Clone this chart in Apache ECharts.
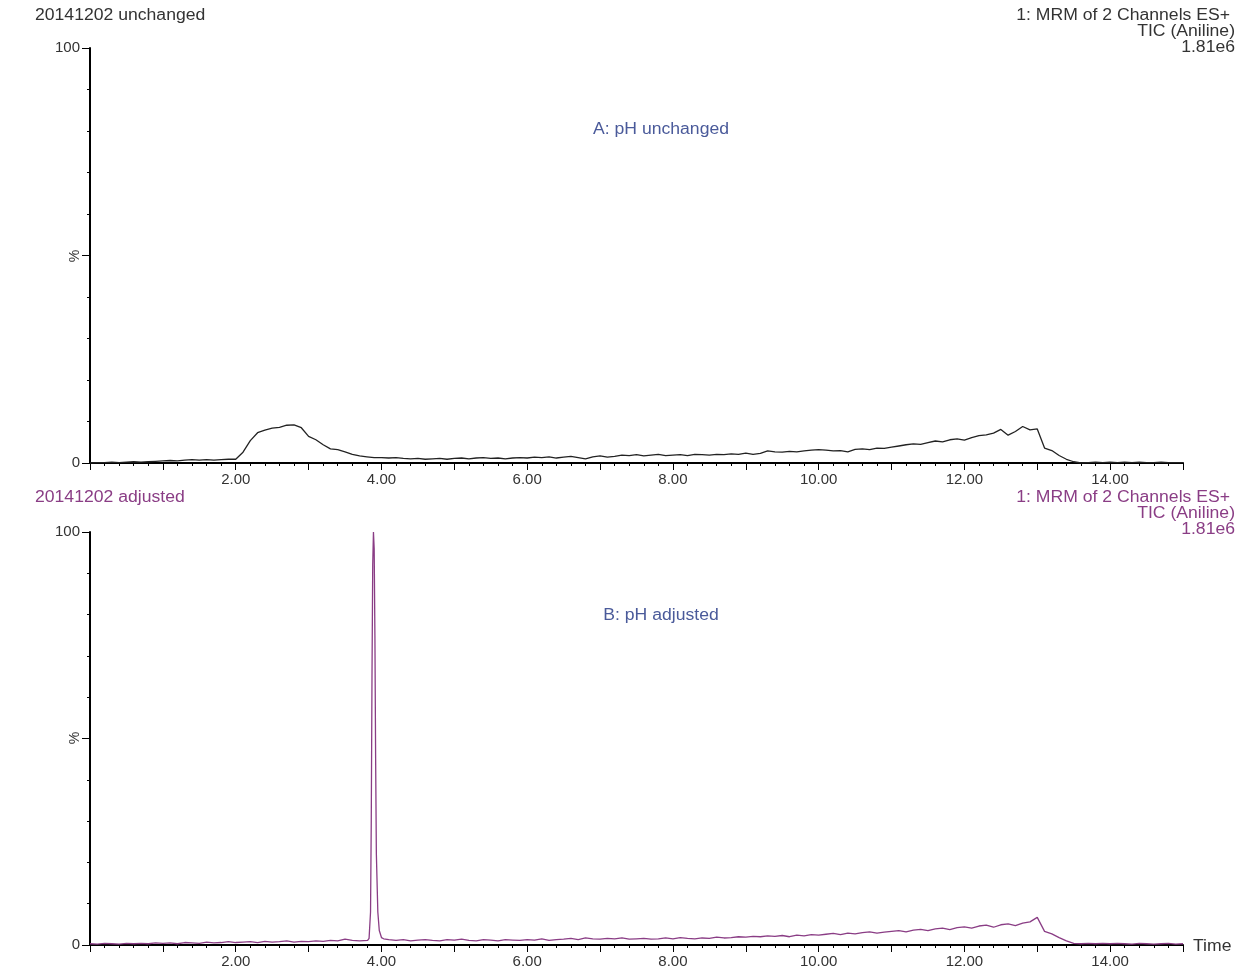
<!DOCTYPE html>
<html>
<head>
<meta charset="utf-8">
<script src="https://cdn.jsdelivr.net/npm/echarts@6/dist/echarts.min.js"></script>
<style>
html,body{margin:0;padding:0;background:#fff;}
#chart{width:1259px;height:979px;}
</style>
</head>
<body>
<div id="chart"></div>
<script>
// ---- Data (retention time in min, intensity in %) ----
var timeStart = 0, timeStep = 0.1;
var valuesA = [
  0.0,0.1,0.1,0.2,0.1,0.2,0.3,0.2,0.3,0.4,
  0.5,0.6,0.5,0.7,0.8,0.7,0.8,0.7,0.8,0.9,
  0.9,2.6,5.4,7.3,7.9,8.4,8.6,9.1,9.2,8.5,
  6.4,5.6,4.4,3.4,3.2,2.7,2.1,1.7,1.5,1.3,
  1.3,1.2,1.3,1.1,1.0,1.1,0.9,1.0,1.1,0.9,
  1.1,1.2,1.0,1.2,1.3,1.1,1.2,1.0,1.2,1.3,
  1.2,1.4,1.3,1.5,1.2,1.4,1.6,1.3,1.0,1.5,
  1.7,1.4,1.6,1.9,1.8,2.0,1.7,1.9,2.1,1.8,
  1.9,2.0,1.8,2.1,2.0,1.9,2.1,2.0,2.2,2.1,
  2.4,2.1,2.3,2.9,2.7,2.6,2.8,2.7,2.9,3.1,
  3.2,3.1,2.9,3.0,2.7,3.3,3.4,3.2,3.6,3.5,
  3.8,4.1,4.4,4.6,4.5,4.9,5.3,5.1,5.6,5.8,
  5.5,6.1,6.6,6.8,7.2,8.1,6.7,7.6,8.8,8.0,
  8.2,3.6,3.0,1.8,0.9,0.3,0.0,0.1,0.2,0.1,
  0.2,0.1,0.2,0.1,0.2,0.1,0.1,0.2,0.1,0.1,
  0.1
];
var valuesB = [
  0.3,0.2,0.4,0.3,0.2,0.4,0.3,0.4,0.3,0.5,
  0.4,0.5,0.3,0.6,0.5,0.4,0.7,0.5,0.6,0.8,
  0.6,0.7,0.8,0.6,0.9,0.7,0.8,1.0,0.7,0.9,
  0.8,1.0,0.9,1.1,1.0,1.4,1.1,1.0,1.0,1.2,
  1.6,1.3,1.1,1.3,1.0,1.2,1.3,1.1,1.0,1.3,
  1.2,1.4,1.1,1.0,1.3,1.2,1.0,1.3,1.2,1.1,
  1.3,1.2,1.5,1.1,1.3,1.4,1.6,1.3,1.7,1.5,
  1.4,1.6,1.5,1.7,1.4,1.5,1.6,1.4,1.5,1.7,
  1.5,1.8,1.6,1.5,1.7,1.6,1.9,1.7,1.8,2.0,
  1.9,2.1,2.0,2.2,2.1,2.3,2.0,2.4,2.2,2.5,
  2.4,2.6,2.8,2.5,2.9,2.7,3.0,3.2,2.9,3.1,
  3.3,3.5,3.2,3.6,3.8,3.5,3.9,4.1,3.7,4.2,
  4.4,4.1,4.6,4.8,4.3,4.9,5.1,4.7,5.3,5.6,
  6.7,3.3,2.7,1.8,1.0,0.4,0.3,0.4,0.3,0.4,
  0.3,0.4,0.3,0.2,0.4,0.3,0.2,0.3,0.4,0.2,
  0.3
];
// Aniline peak in run B (finer sampling)
var peakTimesB  = [3.81,3.83,3.85,3.86,3.87,3.88,3.89,3.90,3.91,3.92,3.93,3.95,3.97,4.00,4.03];
var peakValuesB = [1.1, 1.6, 8.0, 30,  65,  92,  100, 96,  75,  45,  22,  8.0, 3.5, 1.8, 1.5];

var xTickLabels = ['2.00','4.00','6.00','8.00','10.00','12.00','14.00'];
var headerLeft = ['20141202 unchanged', '20141202 adjusted'];
var headerRight = ['1: MRM of 2 Channels ES+', 'TIC (Aniline)', '1.81e6'];
var panelLabels = ['A: pH unchanged', 'B: pH adjusted'];

// ---- Build series ----
function gridPairs(vals){
  var out = [];
  for (var i = 0; i < vals.length; i++) {
    out.push([+(timeStart + i*timeStep).toFixed(2), vals[i]]);
  }
  return out;
}
var dataA = gridPairs(valuesA);
var dataB = gridPairs(valuesB).filter(function(p){ return p[0] < 3.8 || p[0] > 4.05; });
for (var k = 0; k < peakTimesB.length; k++) dataB.push([peakTimesB[k], peakValuesB[k]]);
dataB.sort(function(a,b){ return a[0]-b[0]; });

var FONT = '"Liberation Sans", Arial, sans-serif';
var TXT = '#333';
var PURPLE = '#8a3d85';
var BLUE = '#4a5a9a';

function xAxisDef(idx){
  return {
    type: 'value', gridIndex: idx, min: 0, max: 15, interval: 1,
    axisLine: {onZero: false, lineStyle: {color: '#000', width: 2}},
    axisTick: {show: true, length: 7, lineStyle: {color: '#000', width: 1}},
    minorTick: {show: true, splitNumber: 5, length: 3, lineStyle: {color: '#000', width: 1}},
    splitLine: {show: false},
    axisLabel: {
      margin: 9, color: TXT, fontFamily: FONT, fontSize: 15,
      formatter: function(v){
        var s = v.toFixed(2);
        return xTickLabels.indexOf(s) >= 0 ? s : '';
      }
    }
  };
}
function yAxisDef(idx){
  return {
    type: 'value', gridIndex: idx, min: 0, max: 100, interval: 50,
    axisLine: {show: true, lineStyle: {color: '#000', width: 2}},
    axisTick: {show: true, length: 8, lineStyle: {color: '#000', width: 1}},
    minorTick: {show: true, splitNumber: 5, length: 3, lineStyle: {color: '#000', width: 1}},
    splitLine: {show: false},
    axisLabel: {
      margin: 10, color: TXT, fontFamily: FONT, fontSize: 15,
      formatter: function(v){ return (v === 0 || v === 100) ? String(v) : ''; }
    }
  };
}

function txt(x, y, s, color, align, size, extra){
  var o = {
    type: 'text', x: x, y: y, silent: true, scaleX: 1.1,
    style: {text: s, fill: color, font: (size||16) + 'px ' + FONT, textAlign: align || 'left', textVerticalAlign: 'middle'}
  };
  if (extra) for (var k in extra) o[k] = extra[k];
  return o;
}

var graphics = [
  txt(35, 16, headerLeft[0], TXT),
  txt(1230, 16, headerRight[0], TXT, 'right'),
  txt(1235, 32, headerRight[1], TXT, 'right'),
  txt(1235, 48, headerRight[2], TXT, 'right'),
  txt(661, 130, panelLabels[0], BLUE, 'center'),
  txt(35, 498, headerLeft[1], PURPLE),
  txt(1230, 498, headerRight[0], PURPLE, 'right'),
  txt(1235, 514, headerRight[1], PURPLE, 'right'),
  txt(1235, 530, headerRight[2], PURPLE, 'right'),
  txt(661, 616, panelLabels[1], BLUE, 'center'),
  txt(1193, 947, 'Time', TXT, 'left'),
  txt(75, 256, '%', TXT, 'center', 14, {rotation: Math.PI/2, scaleX: 1}),
  txt(75, 738, '%', TXT, 'center', 14, {rotation: Math.PI/2, scaleX: 1})
];

var chart = echarts.init(document.getElementById('chart'), null, {renderer: 'canvas'});
chart.setOption({
  animation: false,
  backgroundColor: '#fff',
  grid: [
    {left: 90, width: 1093, top: 48, height: 415},
    {left: 90, width: 1093, top: 532, height: 413}
  ],
  xAxis: [xAxisDef(0), xAxisDef(1)],
  yAxis: [yAxisDef(0), yAxisDef(1)],
  series: [
    {type: 'line', xAxisIndex: 0, yAxisIndex: 0, data: dataA, showSymbol: false,
     lineStyle: {color: '#222', width: 1.3}, itemStyle: {color: '#222'}},
    {type: 'line', xAxisIndex: 1, yAxisIndex: 1, data: dataB, showSymbol: false,
     lineStyle: {color: PURPLE, width: 1.3}, itemStyle: {color: PURPLE}}
  ],
  graphic: graphics
});
</script>
</body>
</html>
